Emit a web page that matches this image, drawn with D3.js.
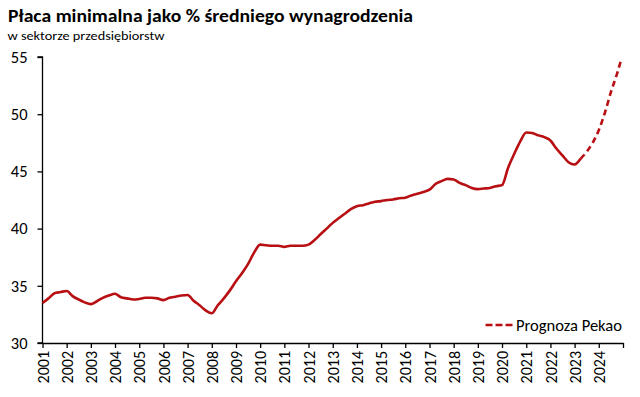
<!DOCTYPE html>
<html>
<head>
<meta charset="utf-8">
<script src="https://cdn.jsdelivr.net/npm/d3@7"></script>
<style>
  body { margin: 0; background: #fff; }
  text { font-family: Carlito, Lato, "Open Sans", sans-serif; }
</style>
</head>
<body>
<div id="chart"></div>
<script>
// quarterly readings (Jan, Apr, Jul, Oct) per year, actual data
let years = [2001, 2002, 2003, 2004, 2005, 2006, 2007, 2008, 2009, 2010, 2011, 2012,
             2013, 2014, 2015, 2016, 2017, 2018, 2019, 2020, 2021, 2022, 2023];
let actual = [
    [33.5, 33.9, 34.35, 34.45],
    [34.55, 34.1, 33.8, 33.55],
    [33.4, 33.65, 33.95, 34.15],
    [34.3, 34.0, 33.9, 33.8],
    [33.85, 33.95, 33.95, 33.9],
    [33.75, 33.95, 34.05, 34.15],
    [34.2, 33.7, 33.3, 32.85],
    [32.6, 33.3, 33.9, 34.6],
    [35.4, 36.1, 36.9, 37.9],
    [38.6, 38.55, 38.5, 38.5],
    [38.4, 38.5, 38.5, 38.5],
    [38.6, 39.0, 39.5, 40.0],
    [40.5, 40.9, 41.3, 41.7],
    [41.95, 42.05, 42.2, 42.35],
    [42.4, 42.5, 42.55, 42.65],
    [42.7, 42.9, 43.05, 43.2],
    [43.4, 43.9, 44.15, 44.35],
    [44.3, 44.0, 43.8, 43.55],
    [43.45, 43.5, 43.55, 43.7],
    [43.8, 45.3, 46.5, 47.6],
    [48.4, 48.35, 48.15, 48.0],
    [47.7, 47.0, 46.4, 45.8],
    [45.6, 46.1]
];

// Pekao forecast
let forecastDates = ["2023-04", "2023-07", "2023-10", "2024-01", "2024-04", "2024-07", "2024-10", "2024-12"];
let forecast = [46.1, 46.7, 47.5, 48.6, 50.1, 51.9, 53.5, 54.7];

let yTicks = [30, 35, 40, 45, 50, 55];
let xTicks = d3.range(2001, 2025);

// set size for svg container
let width = 640;
let height = 397;
let margin = { top: 57, right: 17, bottom: 54, left: 42.5 };
let chartWidth = width - margin.left - margin.right;
let chartHeight = height - margin.top - margin.bottom;

let svg = d3.select("#chart").append("svg").attr("width", width).attr("height", height);

svg.append("text").attr("x", 8).attr("y", 22)
    .attr("font-size", "19px").attr("font-weight", "bold").attr("fill", "#000")
    .attr("textLength", 405).attr("lengthAdjust", "spacingAndGlyphs")
    .text("Płaca minimalna jako % średniego wynagrodzenia");
svg.append("text").attr("x", 7.5).attr("y", 40)
    .attr("font-size", "13px").attr("fill", "#000")
    .attr("textLength", 157).attr("lengthAdjust", "spacingAndGlyphs")
    .text("w sektorze przedsiębiorstw");

let chartGroup = svg.append("g").attr("transform", `translate(${margin.left}, ${margin.top})`);

let parse = d3.timeParse("%Y-%m");
let xScale = d3.scaleTime().domain([new Date(2001, 0, 1), new Date(2025, 0, 1)]).range([0, chartWidth]);
let yScale = d3.scaleLinear().domain([30, 55]).range([chartHeight, 0]);

// flatten quarterly readings into dated points
let actualPoints = [];
years.forEach((yr, i) => {
    actual[i].forEach((v, q) => actualPoints.push({ date: new Date(yr, q * 3, 1), value: v }));
});
let forecastPoints = forecastDates.map((d, i) => ({ date: parse(d), value: forecast[i] }));

// axes
let yAxis = d3.axisLeft(yScale).tickValues(yTicks).tickSize(5).tickPadding(10);
let xAxis = d3.axisBottom(xScale)
    .tickValues(xTicks.map(y => new Date(y, 0, 1)).concat([new Date(2025, 0, 1)]))
    .tickFormat(d => d.getFullYear() < 2025 ? d.getFullYear() : "")
    .tickSize(5).tickSizeOuter(0);

let gy = chartGroup.append("g").attr("class", "yaxis").call(yAxis);
gy.select(".domain").attr("d", `M-5,${chartHeight}H0V0H-5`).attr("stroke", "#000").attr("stroke-width", 1.3);
gy.selectAll("text").attr("font-size", "16.5px").attr("fill", "#000");
gy.selectAll(".tick line").attr("stroke", "#000").attr("stroke-width", 1.3);

let gx = chartGroup.append("g").attr("class", "xaxis").attr("transform", `translate(0, ${chartHeight})`).call(xAxis);
gx.select(".domain").attr("stroke", "#000").attr("stroke-width", 1.3);
gx.selectAll(".tick line").attr("stroke", "#000").attr("stroke-width", 1.3);
gx.selectAll("text")
    .attr("font-size", "16px").attr("fill", "#000")
    .attr("transform", "rotate(-90)")
    .attr("text-anchor", "end")
    .attr("x", -8).attr("y", 0).attr("dy", "0.35em");

let line = d3.line().x(d => xScale(d.date)).y(d => yScale(d.value)).curve(d3.curveMonotoneX);

chartGroup.append("path").datum(actualPoints)
    .attr("fill", "none").attr("stroke", "#B80F13").attr("stroke-width", 2.6)
    .attr("stroke-linejoin", "round").attr("d", line);

chartGroup.append("path").datum(forecastPoints)
    .attr("fill", "none").attr("stroke", "#B80F13").attr("stroke-width", 2.6)
    .attr("stroke-dasharray", "6,4").attr("d", line);

// legend
let legend = chartGroup.append("g").attr("transform", `translate(${485.5 - margin.left}, ${325 - margin.top})`);
legend.append("line").attr("x1", 0).attr("x2", 27).attr("y1", 0).attr("y2", 0)
    .attr("stroke", "#B80F13").attr("stroke-width", 2.6).attr("stroke-dasharray", "7,3");
legend.append("text").attr("x", 30.5).attr("y", 0).attr("dy", "0.35em")
    .attr("font-size", "16px").attr("fill", "#000")
    .attr("textLength", 106).attr("lengthAdjust", "spacingAndGlyphs")
    .text("Prognoza Pekao");
</script>
</body>
</html>
